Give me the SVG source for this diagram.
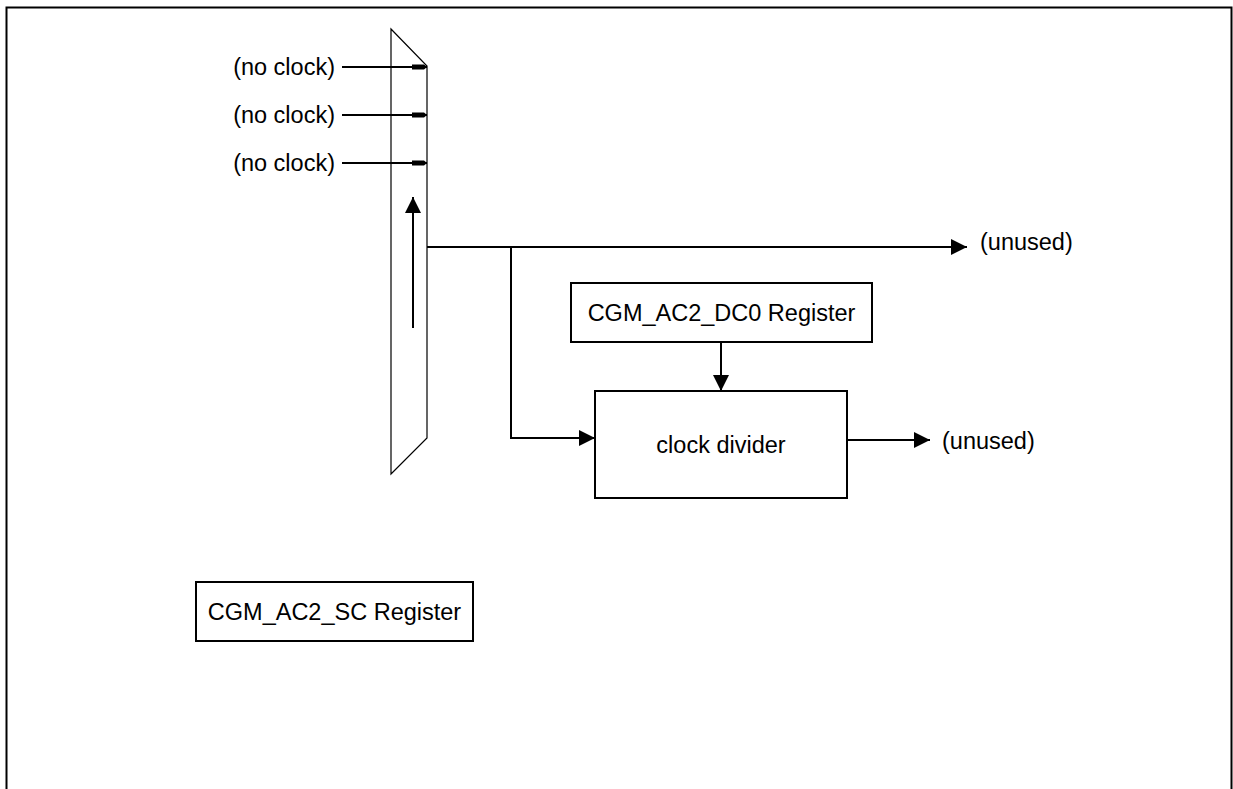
<svg xmlns="http://www.w3.org/2000/svg" width="1233" height="789" viewBox="0 0 1233 789">
<style>
text{font-family:"Liberation Sans",Arial,sans-serif;font-size:23.5px;fill:#000}
.box{fill:#fff;stroke:#000;stroke-width:2}
.wire{fill:none;stroke:#000;stroke-width:2}
.c{text-anchor:middle}
.r{text-anchor:end}
</style>
<defs>
<marker id="ah" markerUnits="userSpaceOnUse" markerWidth="16" markerHeight="16" viewBox="0 0 14 14" refX="14" refY="7" orient="auto"><path d="M0,0 L14,7 L0,14 Z" fill="#000"/></marker>
<marker id="sm" markerUnits="userSpaceOnUse" markerWidth="15" markerHeight="8" viewBox="0 0 15 6" refX="15" refY="3" orient="auto"><path d="M0,0.5 L12,0.5 L15,3 L12,5.5 L0,5.5 Z" fill="#000"/></marker>
</defs>
<rect width="1233" height="789" fill="#fff"/>
<path d="M6.5,789 V7.5 H1231.5 V789" fill="none" stroke="#000" stroke-width="2"/>
<g id="mux">
<polygon points="391,29 427,66 427,438 391,474" fill="#fff" stroke="#000" stroke-width="1.2"/>
</g>
<g id="in-labels">
<text class="r" x="335" y="75">(no clock)</text>
<text class="r" x="335" y="123">(no clock)</text>
<text class="r" x="335" y="171">(no clock)</text>
</g>
<g id="dc0">
<rect class="box" x="571" y="283" width="301" height="59"/>
<text class="c" x="721.5" y="321">CGM_AC2_DC0 Register</text>
</g>
<g id="divider">
<rect class="box" x="595" y="391" width="252" height="107"/>
<text class="c" x="721" y="453">clock divider</text>
</g>
<g id="sc">
<rect class="box" x="196" y="582" width="277" height="59"/>
<text class="c" x="334.5" y="620">CGM_AC2_SC Register</text>
</g>
<g id="out-labels">
<text x="980" y="250">(unused)</text>
<text x="942" y="449">(unused)</text>
</g>
<g id="connectors">
<line class="wire" x1="342" y1="67" x2="427" y2="67" marker-end="url(#sm)"/>
<line class="wire" x1="342" y1="115" x2="427" y2="115" marker-end="url(#sm)"/>
<line class="wire" x1="342" y1="163" x2="427" y2="163" marker-end="url(#sm)"/>
<line class="wire" x1="413" y1="328" x2="413" y2="197" marker-end="url(#ah)"/>
<line class="wire" x1="427" y1="247" x2="967" y2="247" marker-end="url(#ah)"/>
<polyline class="wire" points="511,247 511,438 595,438" marker-end="url(#ah)"/>
<line class="wire" x1="721" y1="342" x2="721" y2="391" marker-end="url(#ah)"/>
<line class="wire" x1="847" y1="440" x2="930" y2="440" marker-end="url(#ah)"/>
</g>
</svg>
